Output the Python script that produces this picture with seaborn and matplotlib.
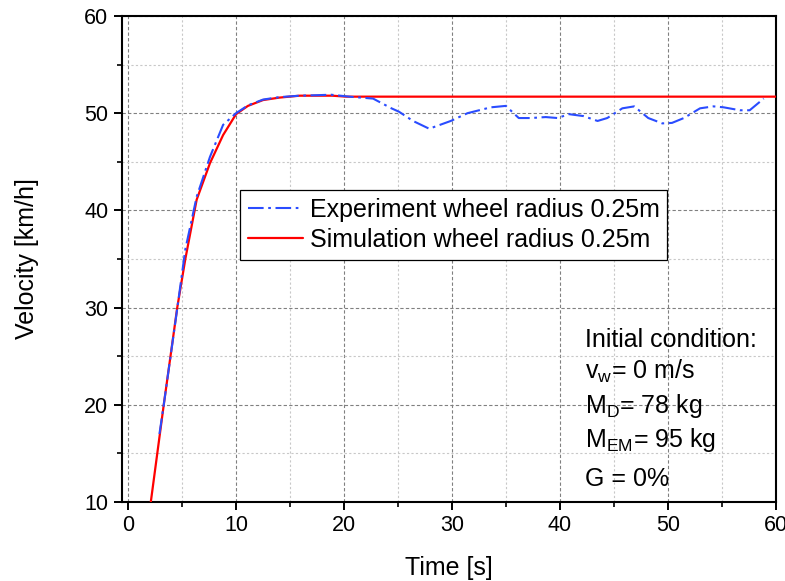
import matplotlib
matplotlib.use("Agg")
import matplotlib.pyplot as plt
import seaborn as sns
import pandas as pd
from matplotlib.ticker import MultipleLocator

# experiment
exp_t = [2.9, 3.3, 4.5, 5.3, 6.35, 7.58, 8.8, 10.0, 11.1, 12.5, 14.0, 15.9, 17.5, 18.8,
         20.5, 22.7, 24.4, 25.1, 26.4, 27.9, 29.9, 31.45, 33.6, 35.0, 36.2, 37.3, 38.7,
         39.8, 40.85, 42.2, 43.5, 44.4, 45.8, 46.9, 48.2, 49.5, 50.4, 51.5, 53.0, 54.25,
         55.2, 56.7, 57.6, 58.9]
exp_v = [17.0, 20.0, 29.5, 36.0, 41.4, 45.5, 48.8, 50.0, 50.8, 51.4, 51.65, 51.8, 51.85, 51.9,
         51.7, 51.5, 50.5, 50.15, 49.2, 48.4, 49.2, 50.0, 50.6, 50.75, 49.5, 49.5, 49.6,
         49.5, 49.9, 49.7, 49.2, 49.5, 50.5, 50.7, 49.5, 48.95, 49.0, 49.5, 50.5, 50.7,
         50.6, 50.3, 50.3, 51.5]

# simulation
sim_t = [2.1, 3.3, 4.55, 5.3, 6.35, 7.58, 8.8, 10.0, 11.1, 12.5, 14.0, 15.9, 18.9, 20.2, 60.0]
sim_v = [10.0, 20.0, 30.0, 35.0, 41.1, 44.85, 47.75, 49.9, 50.75, 51.35, 51.6, 51.8, 51.8, 51.7, 51.7]

exp_df = pd.DataFrame({"t": exp_t, "v": exp_v})
sim_df = pd.DataFrame({"t": sim_t, "v": sim_v})

sns.set_style("white")
plt.rcParams["font.family"] = ["Liberation Sans", "DejaVu Sans"]
plt.rcParams["mathtext.fontset"] = "custom"
plt.rcParams["mathtext.rm"] = "Liberation Sans"
plt.rcParams["text.color"] = "black"
plt.rcParams["axes.labelcolor"] = "black"
plt.rcParams["xtick.color"] = "black"
plt.rcParams["ytick.color"] = "black"

fig, ax = plt.subplots(figsize=(7.85, 5.81), dpi=100)
fig.subplots_adjust(left=0.155, right=0.988, top=0.9725, bottom=0.136)

sns.lineplot(data=exp_df, x="t", y="v", ax=ax, color="#2a4cff", lw=1.5,
             linestyle=(0, (7.5, 2.2, 1.3, 2.2)), label="Experiment wheel radius 0.25m",
             zorder=4, sort=False)
sns.lineplot(data=sim_df, x="t", y="v", ax=ax, color="#ff0000", lw=1.6,
             label="Simulation wheel radius 0.25m", zorder=3, sort=False)

ax.set_xlim(-0.6, 60)
ax.set_ylim(10, 60)
ax.xaxis.set_major_locator(MultipleLocator(10))
ax.xaxis.set_minor_locator(MultipleLocator(5))
ax.yaxis.set_major_locator(MultipleLocator(10))
ax.yaxis.set_minor_locator(MultipleLocator(5))

ax.grid(which="major", color="#808080", linestyle=(0, (3, 2)), linewidth=0.8)
ax.grid(which="minor", color="#c8c8c8", linestyle=(0, (2, 2)), linewidth=0.8)
ax.set_axisbelow(True)

for s in ax.spines.values():
    s.set_color("black")
    s.set_linewidth(1.5)

ax.tick_params(which="major", direction="out", length=6, width=1.4, labelsize=15.5,
               left=True, bottom=True)
ax.tick_params(which="minor", direction="out", length=3.5, width=1.2, left=True, bottom=True)

ax.set_xlabel("Time [s]", fontsize=18, labelpad=14)
ax.set_ylabel("Velocity [km/h]", fontsize=18, labelpad=33)

leg = ax.legend(loc="upper left", bbox_to_anchor=(0.181, 0.641), fontsize=18,
                frameon=True, fancybox=False, framealpha=1, edgecolor="black",
                handlelength=2.2, handletextpad=0.3, labelspacing=0.25,
                borderpad=0.3, borderaxespad=0)
leg.get_frame().set_linewidth(0.9)

lines = ["Initial condition:",
         r"v$\mathregular{_w}$= 0 m/s",
         r"M$\mathregular{_D}$= 78 kg",
         r"M$\mathregular{_{EM}}$= 95 kg",
         "G = 0%"]
ys = [0.3196, 0.253, 0.183, 0.113, 0.0335]
for txt, yy in zip(lines, ys):
    ax.text(0.7085, yy, txt, transform=ax.transAxes, fontsize=18, va="baseline", ha="left")

fig.savefig("out.png", dpi=100)
